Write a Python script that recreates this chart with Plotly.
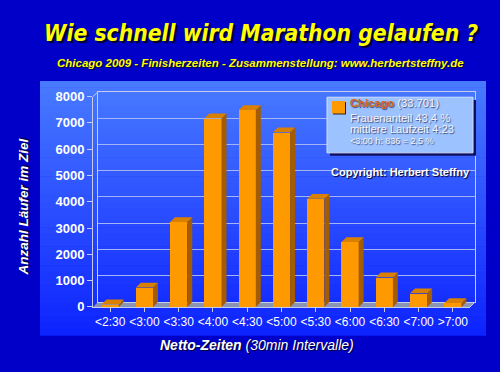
import plotly.graph_objects as go

categories = ["<2:30", "<3:00", "<3:30", "<4:00", "<4:30", "<5:00", "<5:30", "<6:00", "<6:30", "<7:00", ">7:00"]
finishers = [100, 736, 3230, 7170, 7490, 6640, 4110, 2470, 1130, 520, 150]
y_ticks = [0, 1000, 2000, 3000, 4000, 5000, 6000, 7000, 8000]

W, H = 500, 372
def px(x): return x / W
def py(y): return 1 - y / H

# geometry (pixels)
FRONT_L, FRONT_R, FRONT_B, FRONT_T = 93, 470, 312.5, 93.3
D = 5  # 3D depth in px
BACK_L, BACK_R, BACK_B, BACK_T = FRONT_L + D, FRONT_R + D, FRONT_B - D, FRONT_T - D

n = len(categories)
xr = [-0.5, n - 0.5]
yr = [0, 8000]
dx = D / ((FRONT_R - FRONT_L) / (xr[1] - xr[0]))
dy = D / ((FRONT_B - FRONT_T) / (yr[1] - yr[0]))
bw = 0.5

fig = go.Figure()

# back wall (grid) on xy
fig.add_trace(go.Scatter(x=[0], y=[0], mode="markers", marker=dict(opacity=0), showlegend=False,
                         hoverinfo="skip", xaxis="x", yaxis="y"))

# front bars on x2y2
fig.add_trace(go.Bar(x=list(range(n)), y=finishers, width=bw, marker=dict(color="#ff9900", line=dict(width=0)),
                     xaxis="x2", yaxis="y2", showlegend=False))

sx, sy, tx, ty = [], [], [], []
for i, v in enumerate(finishers):
    r = i + bw / 2
    l = i - bw / 2
    sx += [r, r, r + dx, r + dx, r, None]
    sy += [0, v, v + dy, dy, 0, None]
    tx += [l, r, r + dx, l + dx, l, None]
    ty += [v, v, v + dy, v + dy, v, None]
fig.add_trace(go.Scatter(x=sx, y=sy, fill="toself", fillcolor="#a35c00", mode="lines", line=dict(width=0),
                         xaxis="x2", yaxis="y2", showlegend=False, hoverinfo="skip"))
fig.add_trace(go.Scatter(x=tx, y=ty, fill="toself", fillcolor="#d98000", mode="lines", line=dict(width=0),
                         xaxis="x2", yaxis="y2", showlegend=False, hoverinfo="skip"))

shapes = []
# panel gradient
top_c = (72, 122, 255)
bot_c = (14, 36, 255)
P_L, P_R, P_T, P_B = 40, 486, 77, 342
NB = 40
for k in range(NB):
    t = k / (NB - 1)
    c = tuple(int(round(top_c[j] + (bot_c[j] - top_c[j]) * t)) for j in range(3))
    y0 = P_T + (P_B - P_T) * k / NB
    y1 = P_T + (P_B - P_T) * (k + 1) / NB + 0.6
    shapes.append(dict(type="rect", xref="paper", yref="paper", layer="below",
                       x0=px(P_L), x1=px(P_R), y0=py(y1), y1=py(y0),
                       fillcolor="rgb(%d,%d,%d)" % c, line=dict(width=0)))
# floor
shapes.append(dict(type="path", xref="paper", yref="paper", layer="below",
                   path="M %f,%f L %f,%f L %f,%f L %f,%f Z" % (px(FRONT_L), py(FRONT_B), px(FRONT_R), py(FRONT_B),
                                                            px(BACK_R), py(BACK_B), px(BACK_L), py(BACK_B)),
                   fillcolor="#8c94b4", line=dict(width=0)))
# side wall connectors
for (x0, y0, x1, y1) in [(FRONT_L, FRONT_T, BACK_L, BACK_T), (FRONT_R, FRONT_B, BACK_R, BACK_B)]:
    shapes.append(dict(type="line", xref="paper", yref="paper", layer="below",
                       x0=px(x0), y0=py(y0), x1=px(x1), y1=py(y1), line=dict(color="#c8d0f0", width=1)))

# legend box shadow + box
LB_L, LB_R, LB_T, LB_B = 327, 473, 94, 152
shapes.append(dict(type="rect", xref="paper", yref="paper", x0=px(LB_L + 3), x1=px(LB_R + 3), y0=py(LB_B + 3), y1=py(LB_T + 3),
                   fillcolor="#101060", line=dict(width=0)))
shapes.append(dict(type="rect", xref="paper", yref="paper", x0=px(LB_L), x1=px(LB_R), y0=py(LB_B), y1=py(LB_T),
                   fillcolor="#9cc2ff", line=dict(color="#d0e0ff", width=1)))
shapes.append(dict(type="rect", xref="paper", yref="paper", x0=px(333), x1=px(346), y0=py(112), y1=py(99),
                   fillcolor="#202020", line=dict(width=0)))
shapes.append(dict(type="rect", xref="paper", yref="paper", x0=px(332), x1=px(345), y0=py(111), y1=py(98),
                   fillcolor="#ff9900", line=dict(width=0)))

axis_col = "#c4ccec"
leg_font = dict(family="Liberation Sans", size=11.2, color="#f4f4f4", shadow="1px 1px 1px #3a4a80")
def leg(text, y, size=11.2):
    f = dict(leg_font)
    f["size"] = size
    return dict(text=text, x=px(348), y=py(y), xref="paper", yref="paper", showarrow=False,
                xanchor="left", yanchor="middle", align="left", font=f)

annotations = [
    dict(text="Wie schnell wird Marathon gelaufen ?", x=px(261), y=py(27), xref="paper", yref="paper",
         showarrow=False, xanchor="center", yanchor="middle",
         font=dict(family="DejaVu Sans Condensed", size=22.7, color="#ffff00", weight="bold",
                   style="italic", shadow="2px 2px 1px #000030")),
    dict(text="Chicago 2009 - Finisherzeiten - Zusammenstellung: www.herbertsteffny.de", x=px(260), y=py(58),
         xref="paper", yref="paper", showarrow=False, xanchor="center", yanchor="middle",
         font=dict(family="Liberation Sans", size=11.5, color="#ffff00", weight="bold", style="italic",
                   shadow="1px 1px 1px #000030")),
    dict(text="Anzahl Läufer im Ziel", x=px(24), y=py(209), xref="paper", yref="paper", textangle=-90,
         showarrow=False, xanchor="center", yanchor="middle",
         font=dict(family="Liberation Sans", size=13.5, color="white", weight="bold", style="italic",
                   shadow="1px 1px 1px #000030")),
    dict(text="<b>Netto-Zeiten</b> (30min Intervalle)", x=px(257), y=py(352), xref="paper", yref="paper",
         showarrow=False, xanchor="center", yanchor="middle",
         font=dict(family="Liberation Sans", size=14, color="white", style="italic",
                   shadow="1px 1px 1px #000030")),
    leg("<b><span style='color:#d8661a'>Chicago</span></b> (33.701)", 100.5),
    leg("Frauenanteil 43,4 %", 115.5),
    leg("mittlere Laufzeit 4:23", 127.5),
    leg("&lt;3:00 h: 836 = 2,5 %", 140, 9),
    dict(text="<b>Copyright: Herbert Steffny</b>", x=px(400), y=py(172), xref="paper", yref="paper",
         showarrow=False, xanchor="center", yanchor="middle",
         font=dict(family="Liberation Sans", size=11, color="white", shadow="1px 1px 1px #000030")),
]

fig.update_layout(
    width=W, height=H, margin=dict(l=0, r=0, t=0, b=0),
    paper_bgcolor="#0000c8", plot_bgcolor="rgba(0,0,0,0)",
    shapes=shapes, annotations=annotations, showlegend=False,
    xaxis=dict(domain=[px(BACK_L), px(BACK_R)], range=xr, showticklabels=False, ticks="", showgrid=False,
               zeroline=False, showline=True, linecolor=axis_col, mirror=True, anchor="y"),
    yaxis=dict(domain=[py(BACK_B), py(BACK_T)], range=yr, tickvals=y_ticks, showticklabels=False, ticks="",
               showgrid=True, gridcolor="#a4b4f4", gridwidth=1, zeroline=False, showline=True,
               linecolor=axis_col, mirror=True, anchor="x"),
    xaxis2=dict(domain=[px(FRONT_L), px(FRONT_R)], range=xr, tickvals=list(range(n)), ticktext=categories,
                tickson="boundaries", ticks="outside", ticklen=4, tickcolor=axis_col, showgrid=False,
                zeroline=False, showline=True, linecolor=axis_col, anchor="y2",
                tickfont=dict(family="Liberation Sans", size=12, color="white")),
    yaxis2=dict(domain=[py(FRONT_B), py(FRONT_T)], range=yr, tickvals=y_ticks, ticks="outside", ticklen=5,
                tickcolor=axis_col, showgrid=False, zeroline=False, showline=True, linecolor=axis_col,
                anchor="x2", tickfont=dict(family="Liberation Sans", size=13, color="white", weight="bold")),
    bargap=0,
)

fig.write_html("out.html", config={"displayModeBar": False},
               post_script="document.body.style.margin='0';document.body.style.padding='0';")
